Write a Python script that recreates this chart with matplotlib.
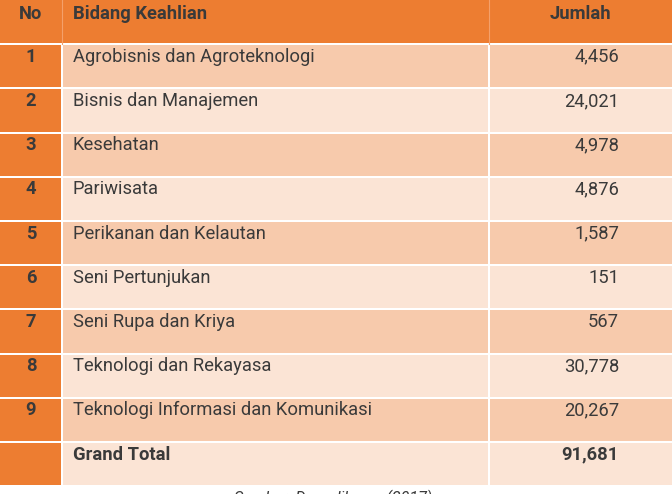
import matplotlib
matplotlib.use("Agg")
import matplotlib.pyplot as plt
from matplotlib.patches import Rectangle

plt.rcParams['font.family'] = ['Roboto', 'DejaVu Sans']

headers = ["No", "Bidang Keahlian", "Jumlah"]
numbers = ["1", "2", "3", "4", "5", "6", "7", "8", "9"]
fields = [
    "Agrobisnis dan Agroteknologi",
    "Bisnis dan Manajemen",
    "Kesehatan",
    "Pariwisata",
    "Perikanan dan Kelautan",
    "Seni Pertunjukan",
    "Seni Rupa dan Kriya",
    "Teknologi dan Rekayasa",
    "Teknologi Informasi dan Komunikasi",
]
counts = [4456, 24021, 4978, 4876, 1587, 151, 567, 30778, 20267]
total_label = "Grand Total"
total_value = 91681
source = "Sumber: Dapodikmen (2017)"

W, H = 672, 494
fig = plt.figure(figsize=(W / 100, H / 100), dpi=100)
ax = fig.add_axes([0, 0, 1, 1])
ax.set_xlim(0, W)
ax.set_ylim(H, 0)
ax.axis('off')

ORANGE = "#ED7D31"
DARK = "#F7CAAC"
LIGHT = "#FBE4D5"
TXT = "#3A3A3A"

col_x = [0, 62, 489, 672]
row_h = 44.2
gap = 1.0

def cell(x0, x1, y0, color):
    ax.add_patch(Rectangle((x0 + gap, y0 + gap), (x1 - x0) - 2 * gap, row_h - 2 * gap,
                           facecolor=color, edgecolor='none'))

# header
ax.add_patch(Rectangle((0, 0), W, row_h - gap, facecolor=ORANGE, edgecolor='none'))
ax.plot([col_x[1], col_x[1]], [0, row_h], color="#F4A06A", lw=0.8)
ax.plot([col_x[2], col_x[2]], [0, row_h], color="#F4A06A", lw=0.8)
fs = 13.2
ax.text(31, 14, headers[0], ha='center', va='center', fontsize=fs, fontweight='bold', color=TXT)
ax.text(73, 14, headers[1], ha='left', va='center', fontsize=fs, fontweight='bold', color=TXT)
ax.text(611, 14, headers[2], ha='right', va='center', fontsize=fs, fontweight='bold', color=TXT)

rows = list(zip(numbers, fields, [f"{c:,}" for c in counts])) + [("", total_label, f"{total_value:,}")]
for i, (n, f, v) in enumerate(rows):
    y0 = row_h * (i + 1)
    shade = DARK if i % 2 == 0 else LIGHT
    cell(col_x[0] - 2, col_x[1], y0, ORANGE)
    cell(col_x[1], col_x[2], y0, shade)
    cell(col_x[2], col_x[3] + 2, y0, shade)
    bold = 'bold' if i == len(rows) - 1 else 'normal'
    yt = y0 + 12.5
    ax.text(31, yt, n, ha='center', va='center', fontsize=fs, fontweight='bold', color=TXT)
    ax.text(73, yt, f, ha='left', va='center', fontsize=fs, fontweight=bold, color=TXT)
    ax.text(619, yt, v, ha='right', va='center', fontsize=fs, fontweight=bold, color=TXT)

ax.text(333, 498, source, ha='center', va='center', fontsize=11.5, style='italic', color=TXT)

fig.savefig("out.png", dpi=100)
